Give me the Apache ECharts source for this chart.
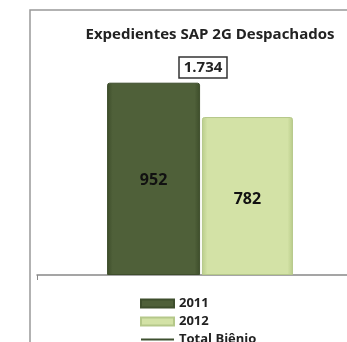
<!DOCTYPE html>
<html>
<head>
<meta charset="utf-8">
<script src="https://cdn.jsdelivr.net/npm/echarts@6/dist/echarts.min.js"></script>
<style>
  html, body { margin: 0; padding: 0; background: #fff; }
  #chart { width: 347px; height: 342px; }
</style>
</head>
<body>
<div id="chart"></div>
<script>
// dados
const categorias = ['Despachados']
const anos = ['2011', '2012']
const valores2011 = [952]
const valores2012 = [782]
const totalBienio = 1734

const chart = echarts.init(document.getElementById('chart'))

// cor com degradê para imitar o bisel
function grad(edge, mid) {
  return new echarts.graphic.LinearGradient(1, 0, 0, 0, [
    { offset: 0, color: edge },
    { offset: 0.06, color: mid },
    { offset: 0.94, color: mid },
    { offset: 1, color: edge }
  ])
}

const fonte = 'Open Sans'

const option = {
  animation: false,
  title: [
    {
      text: 'Expedientes SAP 2G Despachados',
      left: 205,
      top: 22,
      textAlign: 'center',
      textStyle: { fontFamily: fonte, fontSize: 15, fontWeight: 'bold', color: '#222' }
    },
    {
      text: totalBienio.toLocaleString('pt-BR'),
      left: 198,
      top: 57,
      textAlign: 'center',
      padding: [3, 5],
      borderColor: '#333',
      borderWidth: 1.5,
      textStyle: { fontFamily: fonte, fontSize: 15, fontWeight: 'bold', color: '#222' }
    }
  ],
  graphic: [
    {
      type: 'polyline',
      shape: { points: [[30, 342], [30, 10], [347, 10]] },
      style: { stroke: '#999', lineWidth: 1.5, fill: null }
    }
  ],
  legend: {
    orient: 'vertical',
    left: 135,
    top: 292,
    height: 80,
    itemWidth: 33,
    itemHeight: 8,
    itemGap: 5,
    data: [
      { name: anos[0], icon: 'rect' },
      { name: anos[1], icon: 'rect' },
      { name: 'Total Biênio', icon: 'path://M0,3H33V5H0Z' }
    ],
    textStyle: { fontFamily: fonte, fontSize: 13, fontWeight: 'bold', color: '#222' }
  },
  grid: { left: 37, right: -16, top: 73, bottom: 67, outerBoundsMode: 'none' },
  xAxis: {
    type: 'category',
    data: categorias,
    axisLine: { lineStyle: { color: '#888', width: 1.5 } },
    axisTick: { show: true, length: 5, lineStyle: { color: '#888' } },
    axisLabel: { show: false }
  },
  yAxis: {
    type: 'value',
    min: 0,
    max: 1000,
    show: false,
    splitLine: { show: false }
  },
  series: [
    {
      name: anos[0],
      type: 'bar',
      data: valores2011,
      barWidth: 93,
      barGap: '2%',
      itemStyle: { color: grad('#3d4d2a', '#4f6039'), borderColor: '#3e4e2c', borderWidth: 1, borderRadius: [2, 2, 0, 0] },
      label: {
        show: true, position: 'inside', offset: [0, 2],
        fontFamily: fonte, fontSize: 16, fontWeight: 'bold', color: '#111'
      }
    },
    {
      name: anos[1],
      type: 'bar',
      data: valores2012,
      barWidth: 91,
      itemStyle: { color: grad('#b9cc8a', '#d3e2a6'), borderColor: '#b5c88a', borderWidth: 1, borderRadius: [2, 2, 0, 0] },
      label: {
        show: true, position: 'inside', offset: [0, 3],
        fontFamily: fonte, fontSize: 16, fontWeight: 'bold', color: '#111'
      }
    },
    {
      name: 'Total Biênio',
      type: 'line',
      data: [],
      itemStyle: { color: '#3e5030' },
      lineStyle: { color: '#3e5030', width: 2 },
      symbol: 'none'
    }
  ]
}

chart.setOption(option)
</script>
</body>
</html>
